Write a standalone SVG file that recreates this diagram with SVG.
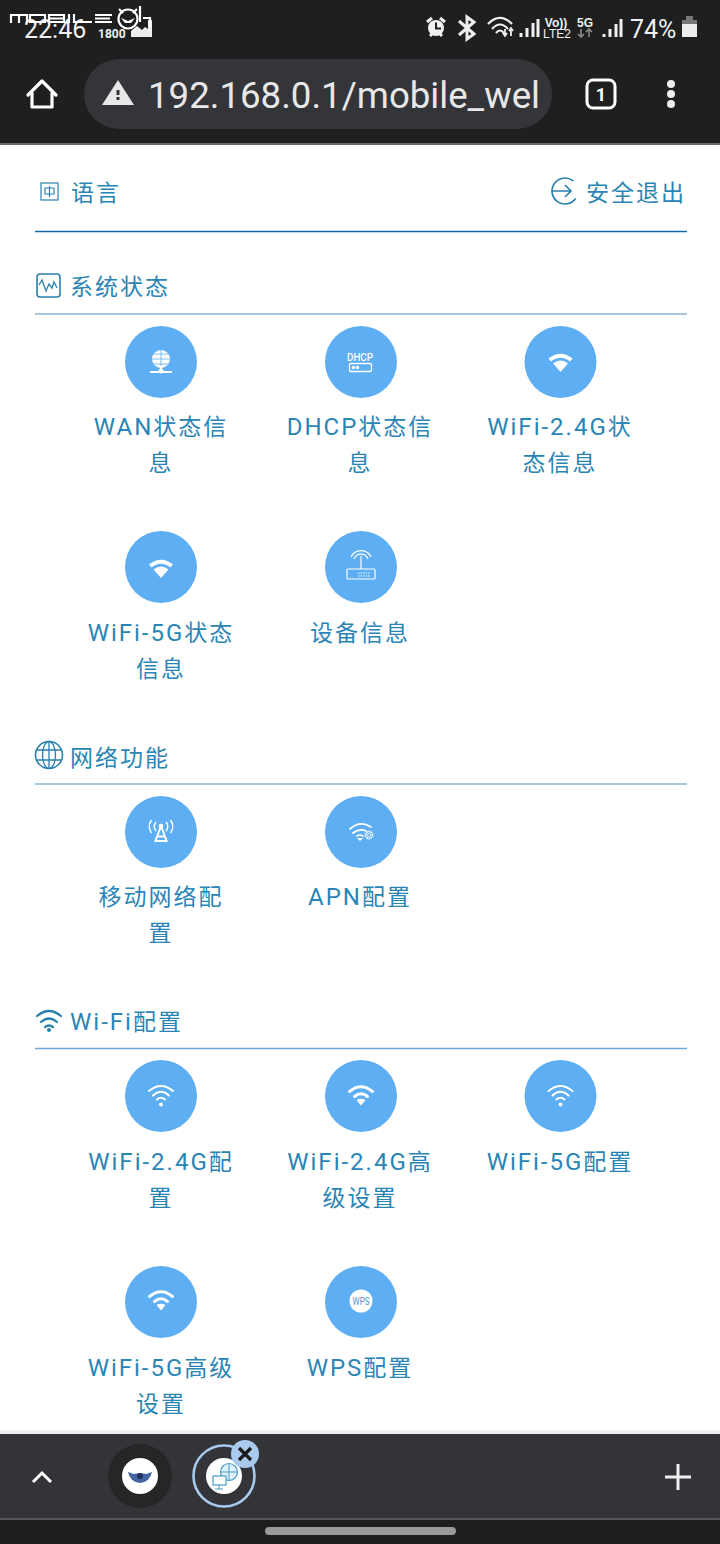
<svg xmlns="http://www.w3.org/2000/svg" width="720" height="1544" viewBox="0 0 720 1544">
<style>
text{font-family:Roboto,"Noto Sans CJK SC",sans-serif}
.l{font-size:23px;letter-spacing:2px;fill:#2a85b5;text-anchor:middle}
.h{font-size:23px;letter-spacing:2px;fill:#2a85b5}
.a{font-size:24px;letter-spacing:2px}
.c{fill:#5daef3}
.w{fill:none;stroke:#fff;stroke-linecap:round}
.f{fill:#fff}
.i{fill:none;stroke:#2a80ad;stroke-width:1.600}
.r{stroke:#8fb4d2;stroke-width:1.400}
.st{fill:#f0f0f0;font-family:"Liberation Sans",sans-serif;text-anchor:middle}
</style>
<defs>
<g id="wifi-solid"><path class="f" d="M-12-5.500Q0-15 12-5.500L9.500-2.500Q0-10-9.500-2.500Z"/><path class="f" d="M-7.500-.5Q0-6.500 7.500-.5L0 8Z"/></g>
<g id="wifi-line"><path class="w" stroke-width="2" d="M-12-5Q0-15 12-5M-8-.5Q0-8 8-.5M-4 3.500Q0 0 4 3.500"/><circle cx="0" cy="8.500" r="2" class="f"/></g>
<g id="wifi-thick"><path class="w" stroke-width="3" d="M-11.500-5.500Q0-15 11.500-5.500M-6.500-.5Q0-6 6.500-.5"/><path class="f" d="M-4.500 3Q0 .5 4.500 3L0 8.500Z"/></g>
</defs>
<rect width="720" height="1544" fill="#fff"/>

<g id="status-bar">
<rect width="720" height="143" fill="#1f1f1f"/>
<text x="24" y="38" font-size="25" fill="#f0f0f0">22:46</text>
<text x="98" y="38" font-size="12" font-weight="700" fill="#f0f0f0" font-family="Liberation Sans">1800</text>
<path d="M131 37V31l6-5 5 4 3-3 3 2V20h4v17Z" fill="#eee"/>
<g fill="none" stroke="#fff" stroke-width="2.200">
<path d="M11 23V15H27V23M19 15V23M30 15H45V22H30ZM49 15H64V22H49ZM49 18.500H64M69 14V23M74 14V22H92M95 15H112M95 18.500H110M95 22H112"/>
<circle cx="128" cy="19" r="9.500"/><path d="M119 9l4 4M137 9l-4 4M140 6V22M143 18h7V27"/>
</g>
<path d="M121 18l7 3 7-3-4 5h-6Z" fill="#fff"/>
<g id="status-icons">
<circle cx="436" cy="28" r="8" fill="#f0f0f0"/><path d="M436 22.500v6h5" fill="none" stroke="#1f1f1f" stroke-width="2"/><path d="M427 22l5-4M445 22l-5-4M430 36l2-2M442 36l-2-2" stroke="#f0f0f0" stroke-width="3"/>
<path d="M459 21l15 13-7 5V17l7 5-15 13" fill="none" stroke="#f0f0f0" stroke-width="3"/>
<path d="M488 24Q500 12 512 24M492 29Q500 20 508 29M496 33Q500 28 504 33" fill="none" stroke="#f0f0f0" stroke-width="2.200"/>
<path d="M505 29v7M503 33l2 3 2-3M511 36v-8M509 31l2-3 2 3" stroke="#f0f0f0" fill="none" stroke-width="1.800"/>
<path d="M521 37v-4M527 37v-9M533 37v-14M538 37v-18" stroke="#f0f0f0" stroke-width="3"/>
<text class="st" x="556" y="27" font-size="12" font-weight="700">Vo))</text>
<text class="st" x="557" y="38" font-size="12">LTE2</text>
<text class="st" x="585" y="27" font-size="12" font-weight="700">5G</text>
<path d="M581 29v8M578 34l3 3 3-3M589 37v-8M586 32l3-3 3 3" stroke="#888" fill="none" stroke-width="1.600"/>
<path d="M604 37v-3M610 37v-8M616 37v-13M621 37v-18" stroke="#f0f0f0" stroke-width="3"/>
<text x="630" y="38" font-size="25" fill="#f0f0f0">74%</text>
<rect x="682" y="21" width="15" height="16" fill="#ececec"/><rect x="682" y="20" width="15" height="4" fill="#777"/><rect x="686" y="16" width="7" height="4" fill="#777"/>
</g>
</g>

<g id="toolbar">
<path d="M28 95L42 81 56 95M32 93V107H52V93" fill="none" stroke="#fff" stroke-width="3.200" stroke-linejoin="round" stroke-linecap="round"/>
<rect x="84" y="59" width="468" height="70" rx="35" fill="#333538"/>
<path d="M118 80l16 25h-32Z" fill="#e8e8e8"/><rect x="116.500" y="90" width="3" height="5" fill="#333538"/><rect x="116.500" y="97" width="3" height="3" fill="#333538"/>
<text x="148" y="108" font-size="36" fill="#e8e8e8" textLength="392" lengthAdjust="spacingAndGlyphs">192.168.0.1/mobile_wel</text>
<rect x="587" y="80" width="28" height="28" rx="6" fill="none" stroke="#fff" stroke-width="3"/>
<text x="601" y="101" font-size="18" font-weight="700" fill="#fff" text-anchor="middle">1</text>
<circle cx="671" cy="84" r="4" fill="#eee"/><circle cx="671" cy="94" r="4" fill="#eee"/><circle cx="671" cy="104" r="4" fill="#eee"/>
<rect y="143" width="720" height="2" fill="#666"/>
</g>

<g id="header">
<rect x="41" y="183" width="17" height="17" class="i" style="stroke-width:1.200"/>
<path d="M45 188h9v6h-9ZM49.500 186V197" class="i" style="stroke-width:1.200"/>
<text x="71" y="201" class="h">语言</text>
<circle cx="565" cy="191" r="13" class="i" stroke-dasharray="62 20" transform="rotate(35 565 191)"/>
<path d="M552 191H571M565 185l6 6-6 6" class="i"/>
<text x="586" y="201" class="h">安全退出</text>
<line x1="35" y1="231.500" x2="687" y2="231.500" stroke="#0f67a3" stroke-width="1.400"/>
</g>

<g id="sec-status">
<rect x="37" y="274" width="23" height="23" rx="3" class="i"/>
<path d="M39 285l3-5 4 11 3-7 3 4 2-6 3 6" class="i" style="stroke-width:1.300"/>
<text x="70" y="295" class="h">系统状态</text>
<line class="r" x1="35" y1="314" x2="687" y2="314"/>
</g>

<g id="node-wan"><circle class="c" cx="161" cy="362" r="36"/>
<circle cx="161" cy="359" r="9" class="f"/><path d="M152 359h18M161 350v18M154 354h14M154 364h14" stroke="#5daef3" stroke-width=".8"/><path d="M150 372h22M161 366v6" stroke="#fff" stroke-width="2"/><circle cx="161" cy="371" r="2.500" class="f"/>
<text class="l" x="161" y="435"><tspan class="a">WAN</tspan>状态信</text><text class="l" x="161" y="471">息</text></g>
<g id="node-dhcp"><circle class="c" cx="361" cy="362" r="36"/>
<text x="360" y="361" font-size="11.500" font-weight="500" fill="#fff" text-anchor="middle" font-family="Noto Sans" textLength="26" lengthAdjust="spacingAndGlyphs">DHCP</text><rect x="349.500" y="363.500" width="22" height="8" rx="1.500" fill="none" stroke="#fff" stroke-width="1.400"/><circle cx="353.500" cy="367.500" r="1.700" class="f"/><circle cx="357.500" cy="367.500" r="1.700" class="f"/>
<text class="l" x="360" y="435"><tspan class="a">DHCP</tspan>状态信</text><text class="l" x="360" y="471">息</text></g>
<g id="node-wifi24-status"><circle class="c" cx="560.500" cy="362" r="36"/><use href="#wifi-solid" x="560.500" y="364"/>
<text class="l" x="560" y="435"><tspan class="a">WiFi-2.4G</tspan>状</text><text class="l" x="560" y="471">态信息</text></g>
<g id="node-wifi5-status"><circle class="c" cx="161" cy="567" r="36"/><use href="#wifi-solid" x="161" y="570"/>
<text class="l" x="161" y="641"><tspan class="a">WiFi-5G</tspan>状态</text><text class="l" x="161" y="677">信息</text></g>
<g id="node-device"><circle class="c" cx="361" cy="567" r="36"/>
<path d="M348 569h26a1 1 0 0 1 1 1v8a1 1 0 0 1-1 1h-26a1 1 0 0 1-1-1v-8a1 1 0 0 1 1-1ZM361 569V556M354 559a7.500 7.500 0 0 1 14 0M351 557a11 11 0 0 1 20 0" fill="none" stroke="#fff" stroke-width="1.200"/>
<path d="M358 573h12M358 576h12" stroke="#fff" stroke-width="1.200" stroke-dasharray="1.500 1"/>
<text class="l" x="360" y="641">设备信息</text></g>

<g id="sec-network">
<circle cx="49" cy="755" r="13.500" class="i"/><ellipse cx="49" cy="755" rx="6.500" ry="13.500" class="i" style="stroke-width:1.300"/><path d="M36 750h26M36 760h26M49 741.500v27" class="i" style="stroke-width:1.300"/>
<text x="70" y="766" class="h">网络功能</text>
<line class="r" x1="35" y1="784" x2="687" y2="784"/>
</g>
<g id="node-mobile"><circle class="c" cx="161" cy="832" r="36"/>
<path d="M155 842l6-16 6 16M157 836.500h8M156 841h10" fill="none" stroke="#fff" stroke-width="2"/><circle cx="161" cy="826" r="2.300" class="f"/>
<path d="M156 822a7 7 0 0 0 0 9M151.500 820a11 11 0 0 0 0 13M166 822a7 7 0 0 1 0 9M170.500 820a11 11 0 0 1 0 13" fill="none" stroke="#fff" stroke-width="1.600"/>
<text class="l" x="161" y="905">移动网络配</text><text class="l" x="161" y="941">置</text></g>
<g id="node-apn"><circle class="c" cx="361" cy="832" r="36"/>
<path d="M350 829Q360 820 371 827M353 833Q360 828 366 831M357 836Q360 834 363 836" class="w" stroke-width="1.700"/><path d="M357 838h6l-3 3Z" class="f"/>
<circle cx="369" cy="835" r="3.500" fill="none" stroke="#fff" stroke-width="1.800" stroke-dasharray="1.500 .7"/><circle cx="369" cy="835" r="1.600" fill="none" stroke="#fff" stroke-width=".7"/>
<text class="l" x="360" y="905"><tspan class="a">APN</tspan>配置</text></g>

<g id="sec-wifi">
<path d="M37 1016Q49 1006 61 1016M41 1022Q49 1015 57 1022M45 1027Q49 1024 53 1027" class="i" style="stroke-width:2.200" stroke-linecap="round"/><circle cx="49" cy="1030" r="2" fill="#2a80ad"/>
<text x="70" y="1030" class="h"><tspan class="a">Wi-Fi</tspan>配置</text>
<line x1="35" y1="1048.500" x2="687" y2="1048.500" stroke="#6ea8d4" stroke-width="1.400"/>
</g>
<g id="node-wifi24"><circle class="c" cx="161" cy="1096" r="36"/><use href="#wifi-line" x="161" y="1096"/>
<text class="l" x="161" y="1170"><tspan class="a">WiFi-2.4G</tspan>配</text><text class="l" x="161" y="1206">置</text></g>
<g id="node-wifi24-adv"><circle class="c" cx="361" cy="1096" r="36"/><use href="#wifi-thick" x="361" y="1097"/>
<text class="l" x="360" y="1170"><tspan class="a">WiFi-2.4G</tspan>高</text><text class="l" x="360" y="1206">级设置</text></g>
<g id="node-wifi5"><circle class="c" cx="560.500" cy="1096" r="36"/><use href="#wifi-line" x="560.500" y="1096"/>
<text class="l" x="560" y="1170"><tspan class="a">WiFi-5G</tspan>配置</text></g>
<g id="node-wifi5-adv"><circle class="c" cx="161" cy="1302" r="36"/><use href="#wifi-thick" x="161" y="1302"/>
<text class="l" x="161" y="1376"><tspan class="a">WiFi-5G</tspan>高级</text><text class="l" x="161" y="1412">设置</text></g>
<g id="node-wps"><circle class="c" cx="361" cy="1302" r="36"/><circle cx="361" cy="1301" r="11.500" class="f"/>
<text x="361" y="1305" font-size="10" fill="#5b8fc4" text-anchor="middle" font-family="Liberation Sans" textLength="17" lengthAdjust="spacingAndGlyphs">WPS</text>
<text class="l" x="360" y="1376"><tspan class="a">WPS</tspan>配置</text></g>

<g id="tab-bar">
<rect y="1430" width="720" height="4" fill="#efefef"/>
<rect y="1434" width="720" height="85" fill="#323437"/>
<rect y="1518" width="720" height="26" fill="#1e1e1e"/><rect y="1518" width="720" height="2" fill="#555"/>
<path d="M33 1482l9-9 9 9" fill="none" stroke="#fff" stroke-width="3"/>
<circle cx="140" cy="1476" r="32" fill="#262626"/><circle cx="140" cy="1476" r="18" fill="#fff"/>
<path d="M128 1472l6 2 6-1 6 1 6-2q-2 10-12 11q-10-1-12-11Z" fill="#44659f"/><circle cx="140" cy="1476" r="3" fill="#22315a"/>
<circle cx="224" cy="1476" r="30.500" fill="none" stroke="#a9c9ee" stroke-width="2.600"/><circle cx="224" cy="1476" r="18" fill="#fff"/>
<circle cx="229" cy="1472" r="8.500" fill="#dff1fb" stroke="#4a9bc6" stroke-width="1.200"/><path d="M221 1472h16M229 1464v16" stroke="#4a9bc6"/>
<rect x="213" y="1476" width="13" height="9" fill="#fff" stroke="#4a9bc6" stroke-width="1.200"/><path d="M219 1485v4M215 1489h8" stroke="#4a9bc6"/>
<circle cx="245" cy="1454" r="14" fill="#a9c9ee"/>
<path d="M239 1448l12 12M251 1448l-12 12" stroke="#1a1a1a" stroke-width="3.200"/>
<path d="M665 1477h26M678 1464v26" stroke="#f0f0f0" stroke-width="3"/>
<rect x="265" y="1527" width="191" height="8" rx="4" fill="#999"/>
</g>
</svg>
